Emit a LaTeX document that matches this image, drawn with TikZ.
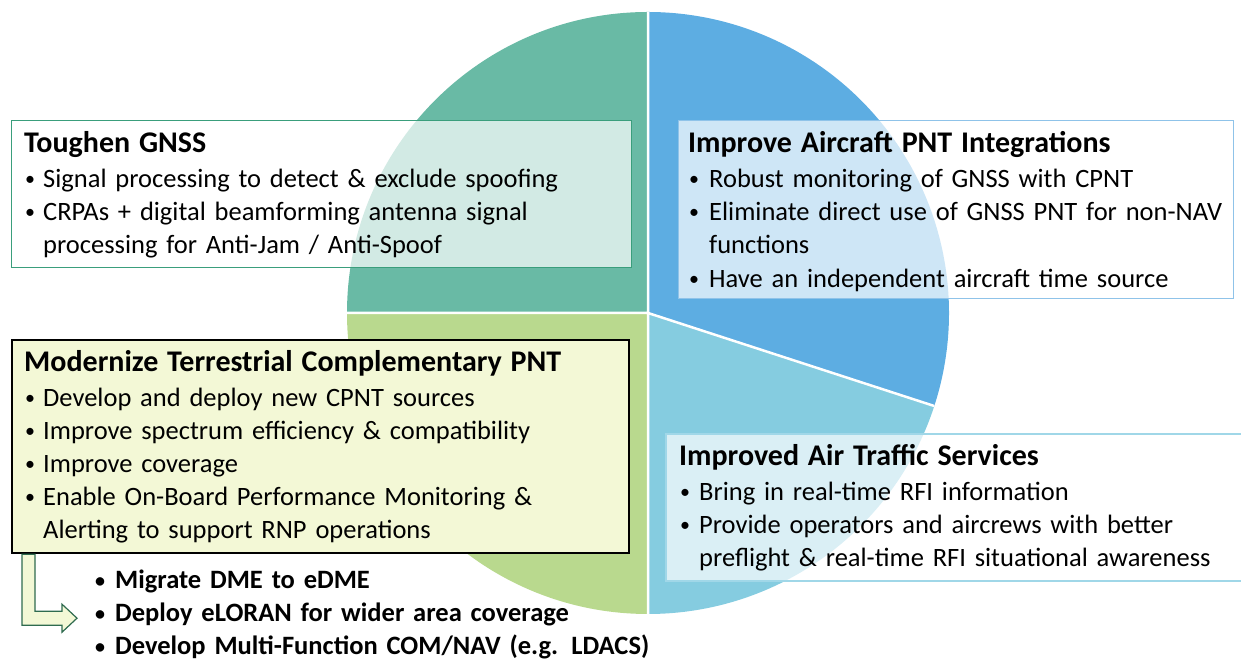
\documentclass[tikz,border=0pt]{standalone}
\usepackage{fontspec}
\setmainfont{Carlito}
\definecolor{pteal}{HTML}{69BAA5}
\definecolor{pblue}{HTML}{5DADE2}
\definecolor{plblue}{HTML}{85CCE0}
\definecolor{pgreen}{HTML}{B9D98E}
\definecolor{tealedge}{HTML}{3A9E7C}
\definecolor{blueedge}{HTML}{8FC3E9}
\definecolor{lblueedge}{HTML}{A0D7E8}
\definecolor{paleyel}{HTML}{F3F8D6}
\definecolor{arrowedge}{HTML}{2F6B4F}
\newcommand{\bdot}{\raisebox{1.5pt}{\fontsize{20}{20}\selectfont•}}
\newcommand{\bitem}[2][19pt]{\noindent\hbox to #1{\hspace{1pt}\bdot\hfil}\vtop{\hsize=560pt\raggedright\noindent\strut#2\strut}\par}
\newcommand{\btitle}[1]{{\fontsize{30}{33}\selectfont\bfseries\noindent #1\par}\vspace{1.5pt}}
\tikzset{
  glassbox/.style={rectangle, anchor=north west, inner sep=0pt, fill=white, fill opacity=0.7, line width=1.2pt},
  boxtext/.style={anchor=base west, inner sep=0pt, text width=640pt, font=\fontsize{26.5}{33}\selectfont},
}
\begin{document}
\begin{tikzpicture}[x=1pt,y=1pt]
\useasboundingbox (0,0) rectangle (1241,660);
\coordinate (C) at (648,347);
% pie
\fill[pteal]  (C) -- ++(90:301pt)  arc[start angle=90,  end angle=180, radius=301pt] -- cycle;
\fill[pgreen] (C) -- ++(180:301pt) arc[start angle=180, end angle=270, radius=301pt] -- cycle;
\fill[plblue] (C) -- ++(270:301pt) arc[start angle=270, end angle=342, radius=301pt] -- cycle;
\fill[pblue]  (C) -- ++(-18:301pt) arc[start angle=-18, end angle=90,  radius=301pt] -- cycle;
\draw[white, line width=2.5pt] (C) -- ++(90:301pt) (C) -- ++(180:301pt) (C) -- ++(270:301pt) (C) -- ++(-18:301pt);
% boxes
\node[glassbox, draw=tealedge, minimum width=620pt, minimum height=147pt] (b1) at (11,540) {};
\node[glassbox, draw=blueedge, minimum width=555pt, minimum height=178pt] (b2) at (678,540) {};
\node[glassbox, draw=lblueedge, line width=2pt, minimum width=590pt, minimum height=147pt] (b4) at (665,227) {};
\node[rectangle, anchor=north west, inner sep=0pt, fill=paleyel, draw=black, line width=2.2pt, minimum width=617pt, minimum height=213pt] (b3) at (11,321) {};
% texts
\node[boxtext] (t1) at (24,507) {\btitle{Toughen GNSS}
\bitem{Signal processing to detect \& exclude spoofing}
\bitem{CRPAs + digital beamforming antenna signal\\ processing for Anti-Jam / Anti-Spoof}};
\node[boxtext] (t2) at (688,507) {\btitle{Improve Aircraft PNT Integrations}
\bitem[21pt]{Robust monitoring of GNSS with CPNT}
\bitem[21pt]{Eliminate direct use of GNSS PNT for non-NAV\\ functions}
\bitem[21pt]{Have an independent aircraft time source}};
\node[boxtext] (t3) at (24,288) {\btitle{Modernize Terrestrial Complementary PNT}
\bitem{Develop and deploy new CPNT sources}
\bitem{Improve spectrum efficiency \& compatibility}
\bitem{Improve coverage}
\bitem{Enable On-Board Performance Monitoring \&\\ Alerting to support RNP operations}};
\node[boxtext] (t4) at (679,194) {\btitle{Improved Air Traffic Services}
\bitem[20pt]{Bring in real-time RFI information}
\bitem[20pt]{Provide operators and aircrews with better\\ preflight \& real-time RFI situational awareness}};
\node[boxtext, font=\fontsize{26.5}{33}\selectfont\bfseries] (t5) at (94,71) {\bitem[21pt]{Migrate DME to eDME}
\bitem[21pt]{Deploy eLORAN for wider area coverage}
\bitem[21pt]{Develop Multi-Function COM/NAV (e.g. LDACS)}};
% block arrow from box 3 to the list
\draw[fill=paleyel, draw=arrowedge, line width=1.2pt, line join=miter]
  ([xshift=11pt]b3.south west) -- ++(0,-71) -- ++(40,0) -- ++(0,-7) -- ++(15,14) -- ++(-15,14) -- ++(0,-7) -- ++(-27,0) -- ([xshift=24pt]b3.south west) -- cycle;
\end{tikzpicture}
\end{document}
